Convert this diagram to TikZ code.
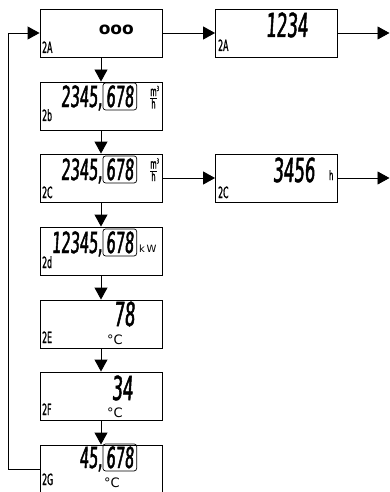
\documentclass[tikz,border=0pt]{standalone}
\usepackage{fontspec}
\setmainfont{DejaVu Sans}
\newfontfamily\lcd[FakeStretch=0.5,FakeSlant=0.06,FakeBold=1.5]{DejaVu Sans}
\newfontfamily\lcdsm[FakeStretch=0.5,FakeBold=1]{DejaVu Sans}
\usetikzlibrary{arrows.meta}
\begin{document}
\begin{tikzpicture}[x=1pt,y=-1pt,
  box/.style={draw,line width=0.9pt,minimum width=122pt,minimum height=48pt,inner sep=0pt},
  arr/.style={line width=0.9pt,-{Triangle[length=12pt,width=13pt]}},
  big/.style={inner sep=0pt,anchor=base east,font=\lcd\fontsize{29}{30}\selectfont},
  huge/.style={inner sep=0pt,anchor=base east,font=\lcd\fontsize{33}{34}\selectfont},
  frm/.style={big,draw,line width=0.7pt,rounded corners=2.5pt,inner xsep=3pt,inner ysep=2.5pt},
  lbl/.style={inner sep=0pt,anchor=base west,font=\lcdsm\fontsize{15.5}{16}\selectfont},
  unit/.style={inner sep=0pt,anchor=base,font=\lcdsm\fontsize{13}{13}\selectfont},
  deg/.style={inner sep=0pt,anchor=base west,font=\fontsize{13}{13}\selectfont},
]
\useasboundingbox (0,0) rectangle (390,492);
\clip (0,0) rectangle (390,492);
% boxes
\node[box] (b1) at (101,33) {};
\node[box] (b2) at (101,106) {};
\node[box] (b3) at (101,178) {};
\node[box] (b4) at (101,251) {};
\node[box] (b5) at (101,324) {};
\node[box] (b6) at (101,396) {};
\node[box] (b7) at (101,469) {};
\node[box] (r1) at (276.5,33) {};
\node[box] (r3) at (276.5,178) {};
\coordinate (e1) at (389.5,33);
\coordinate (e3) at (389.5,178);
\coordinate (l1) at (8,469);
% connectors
\draw[arr] (b1) -- (b2);
\draw[arr] (b2) -- (b3);
\draw[arr] (b3) -- (b4);
\draw[arr] (b4) -- (b5);
\draw[arr] (b5) -- (b6);
\draw[arr] (b6) -- (b7);
\draw[arr] (b1) -- (r1);
\draw[arr] (r1) -- (e1);
\draw[arr] (b3) -- (r3);
\draw[arr] (r3) -- (e3);
\draw[arr] (b7.west) -- (l1) |- (b1.west);
% box 1
\node[inner sep=0pt,anchor=base east,font=\bfseries\fontsize{17}{17}\selectfont] (t1) at (134,35) {ooo};
\node[lbl] (g1) at (42,53) {2A};
% right box 1
\node[huge] (t2) at (308,37) {1234};
\node[lbl] (g2) at (218,51) {2A};
% box 2b
\node[frm] (f3) at (137,107) {678};
\node[big] (t3) at (f3.base west) {2345,};
\node[unit] (m3) at (153.5,96) {m};
\node[unit] (h3) at (153.5,108.5) {h};
\draw[line width=0.7pt] (150,98.5) -- (157,98.5);
\node[inner sep=0pt,anchor=base west,font=\lcdsm\fontsize{7}{7}\selectfont] (s3) at (156.5,91) {3};
\node[lbl] (g3) at (42,121) {2b};
% box 2C
\node[frm] (f4) at (137,180) {678};
\node[big] (t4) at (f4.base west) {2345,};
\node[unit] (m4) at (153.5,168.5) {m};
\node[unit] (h4) at (153.5,181) {h};
\draw[line width=0.7pt] (150,171) -- (157,171);
\node[inner sep=0pt,anchor=base west,font=\lcdsm\fontsize{7}{7}\selectfont] (s4) at (156.5,163.5) {3};
\node[lbl] (g4) at (42,198) {2C};
% right box 2C
\node[huge] (t5) at (315,182) {3456};
\node[unit,anchor=base west] (h5) at (329,180) {h};
\node[lbl] (g5) at (218,198) {2C};
% box 2d
\node[frm] (f6) at (137,253) {678};
\node[big] (t6) at (f6.base west) {12345,};
\node[inner sep=0pt,anchor=base west,font=\fontsize{10}{10}\selectfont] (u6) at (139,252) {k\,W};
\node[lbl] (g6) at (42,268) {2d};
% box 2E
\node[huge] (t7) at (135,326) {78};
\node[deg] (u7) at (107,344) {°C};
\node[lbl] (g7) at (42,343) {2E};
% box 2F
\node[huge] (t8) at (133,400) {34};
\node[deg] (u8) at (107,417) {°C};
\node[lbl] (g8) at (42,415) {2F};
% box 2G
\node[frm] (f9) at (137,468) {678};
\node[big] (t9) at (f9.base west) {45,};
\node[deg] (u9) at (104,487) {°C};
\node[lbl] (g9) at (42,485) {2G};
\end{tikzpicture}
\end{document}
